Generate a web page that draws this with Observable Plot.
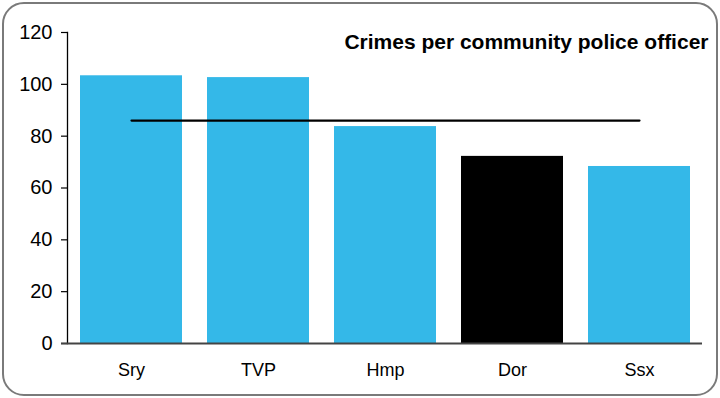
<!DOCTYPE html>
<html>
<head>
<meta charset="utf-8">
<script src="https://cdn.jsdelivr.net/npm/d3@7"></script>
<script src="https://cdn.jsdelivr.net/npm/@observablehq/plot@0.6"></script>
<style>
  html, body { margin: 0; padding: 0; background: #fff; }
  #wrap { position: relative; width: 720px; height: 398px; overflow: hidden; }
  #border { position: absolute; left: 2px; top: 2px; right: 2px; bottom: 2px;
            border: 2px solid #7a7a7a; border-radius: 22px; pointer-events: none; }
  svg { display: block; font-family: "Liberation Sans", Arial, sans-serif; }
</style>
</head>
<body>
<div id="wrap"><div id="border"></div></div>
<script>
const categories = ["Sry", "TVP", "Hmp", "Dor", "Ssx"];
const values = [103.3, 102.6, 83.7, 72.2, 68.3];
const highlight = ["Dor"];
const averageValue = 86;
const yTicks = [0, 20, 40, 60, 80, 100, 120];
const title = "Crimes per community police officer";

const data = categories.map((c, i) => ({cat: c, value: values[i]}));
const avgLine = [
  {cat: categories[0], value: averageValue},
  {cat: categories[categories.length - 1], value: averageValue}
];

const chart = Plot.plot({
  width: 720,
  height: 398,
  marginLeft: 67,
  marginRight: 18,
  marginTop: 32,
  marginBottom: 55,
  style: {fontFamily: "Liberation Sans, Arial, sans-serif", color: "#000", background: "transparent"},
  x: {domain: categories, paddingInner: 0.2, paddingOuter: 0.1, label: null},
  y: {domain: [0, 120], label: null},
  marks: [
    Plot.barY(data, {x: "cat", y: "value",
      fill: d => highlight.includes(d.cat) ? "#000000" : "#34b8e8"}),
    Plot.line(avgLine, {x: "cat", y: "value", stroke: "#000", strokeWidth: 2.2}),
    Plot.axisY(yTicks, {tickSize: 6, tickPadding: 9, fontSize: 20, stroke: "#000", strokeWidth: 1.2}),
    Plot.frame({anchor: "left", stroke: "#000", strokeWidth: 1.3}),
    Plot.ruleY([0], {stroke: "#444", strokeWidth: 1.8, insetLeft: -6}),
    Plot.axisX({tickSize: 0, tickPadding: 20, fontSize: 18}),
    Plot.text([title], {frameAnchor: "top-right", dx: 6, dy: 2, lineAnchor: "top",
      fontSize: 21, fontWeight: "bold", fill: "#000"})
  ]
});
document.getElementById("wrap").prepend(chart);
</script>
</body>
</html>
